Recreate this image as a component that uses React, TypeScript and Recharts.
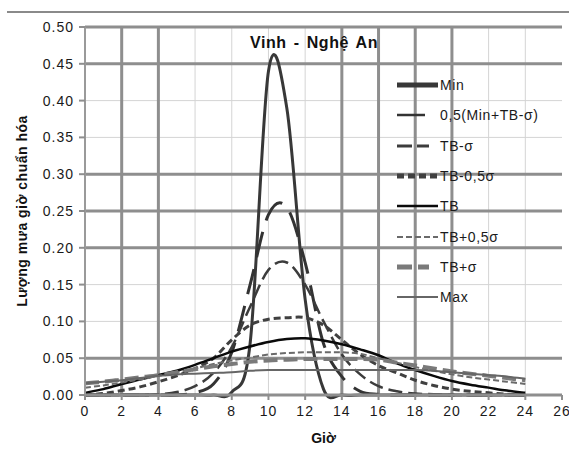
import React from 'react';
import { LineChart, Line, XAxis, YAxis, CartesianGrid, Legend, Label } from 'recharts';

const hours = [0, 1, 2, 3, 4, 5, 6, 7, 8, 9, 10, 11, 12, 13, 14, 15, 16, 17, 18, 19, 20, 21, 22, 23, 24];
const minVals = [0, 0, 0, 0, 0, 0, 0, 0, 0.004, 0.07, 0.44, 0.39, 0.13, 0.008, 0, 0, 0, 0, 0, 0, 0, 0, 0, 0, 0];
const halfMinTbSigma = [0, 0, 0, 0, 0, 0, 0.003, 0.015, 0.058, 0.15, 0.245, 0.255, 0.18, 0.07, 0.025, 0.005, 0.001, 0, 0, 0, 0, 0, 0, 0, 0];
const tbMinusSigma = [0, 0, 0, 0, 0.001, 0.004, 0.012, 0.03, 0.065, 0.12, 0.17, 0.18, 0.15, 0.1, 0.055, 0.028, 0.012, 0.005, 0.002, 0.001, 0, 0, 0, 0, 0];
const tbMinusHalfSigma = [0, 0.002, 0.006, 0.011, 0.018, 0.026, 0.036, 0.05, 0.075, 0.095, 0.103, 0.105, 0.105, 0.095, 0.075, 0.055, 0.04, 0.03, 0.02, 0.013, 0.008, 0.005, 0.003, 0.001, 0];
const tbVals = [0.003, 0.008, 0.015, 0.021, 0.027, 0.033, 0.041, 0.05, 0.059, 0.066, 0.072, 0.076, 0.077, 0.074, 0.069, 0.062, 0.054, 0.043, 0.034, 0.026, 0.019, 0.014, 0.01, 0.006, 0.003];
const tbPlusHalfSigma = [0.01, 0.013, 0.017, 0.021, 0.026, 0.031, 0.036, 0.042, 0.047, 0.051, 0.055, 0.057, 0.058, 0.058, 0.058, 0.056, 0.05, 0.044, 0.038, 0.033, 0.028, 0.024, 0.021, 0.018, 0.015];
const tbPlusSigma = [0.016, 0.018, 0.021, 0.024, 0.027, 0.031, 0.035, 0.039, 0.042, 0.045, 0.047, 0.048, 0.049, 0.049, 0.049, 0.049, 0.048, 0.044, 0.04, 0.036, 0.032, 0.029, 0.026, 0.023, 0.02];
const maxVals = [0.016, 0.018, 0.02, 0.023, 0.026, 0.028, 0.029, 0.03, 0.031, 0.033, 0.034, 0.034, 0.034, 0.034, 0.034, 0.034, 0.034, 0.034, 0.034, 0.033, 0.031, 0.029, 0.027, 0.025, 0.022];

const seriesNames = ['Min', '0,5(Min+TB-σ)', 'TB-σ', 'TB-0,5σ', 'TB', 'TB+0,5σ', 'TB+σ', 'Max'];
const seriesValues = [minVals, halfMinTbSigma, tbMinusSigma, tbMinusHalfSigma, tbVals, tbPlusHalfSigma, tbPlusSigma, maxVals];

const xTicks = [0, 2, 4, 6, 8, 10, 12, 14, 16, 18, 20, 22, 24, 26];
const yTicks = [0, 0.05, 0.1, 0.15, 0.2, 0.25, 0.3, 0.35, 0.4, 0.45, 0.5];
const xMajorGrid = [2, 4, 14, 16, 18, 20];
const xMinorGrid = [6, 8, 10, 12, 22, 24];
const yMajorGrid = [0.05, 0.2, 0.25, 0.3, 0.45, 0.5];
const yMinorGrid = [0.1, 0.15, 0.35, 0.4];

// styles per series (chart stroke, legend sample)
const styles = [
  { color: '#383838', width: 3, dash: undefined, legendWidth: 5, legendLen: 41, legendDash: undefined },
  { color: '#333333', width: 3, dash: '26 12', legendWidth: 2.5, legendLen: 28, legendDash: undefined },
  { color: '#3c3c3c', width: 2.5, dash: '14 6', legendWidth: 3, legendLen: 32, legendDash: '15 5' },
  { color: '#404040', width: 3, dash: '7 4', legendWidth: 5, legendLen: 41, legendDash: '7 4' },
  { color: '#0a0a0a', width: 2.5, dash: undefined, legendWidth: 2.5, legendLen: 41, legendDash: undefined },
  { color: '#6a6a6a', width: 2, dash: '6 3', legendWidth: 2, legendLen: 41, legendDash: '6 3' },
  { color: '#7a7a7a', width: 4, dash: '14 6', legendWidth: 5, legendLen: 32, legendDash: '15 6' },
  { color: '#666666', width: 2, dash: undefined, legendWidth: 2, legendLen: 41, legendDash: undefined },
];

const data = hours.map((h, i) => {
  const row: Record<string, number> = { h };
  seriesValues.forEach((vals, k) => {
    row['s' + k] = vals[i];
  });
  return row;
});

// Excel-like smoothing (Catmull-Rom through points)
const excelSmooth: any = (context: any) => {
  let pts: number[][] = [];
  return {
    areaStart() {},
    areaEnd() {},
    lineStart() {
      pts = [];
    },
    point(x: number, y: number) {
      pts.push([+x, +y]);
    },
    lineEnd() {
      if (!pts.length) return;
      context.moveTo(pts[0][0], pts[0][1]);
      for (let i = 0; i < pts.length - 1; i++) {
        const p0 = pts[i - 1] || pts[i];
        const p1 = pts[i];
        const p2 = pts[i + 1];
        const p3 = pts[i + 2] || p2;
        context.bezierCurveTo(
          p1[0] + (p2[0] - p0[0]) / 6,
          p1[1] + (p2[1] - p0[1]) / 6,
          p2[0] - (p3[0] - p1[0]) / 6,
          p2[1] - (p3[1] - p1[1]) / 6,
          p2[0],
          p2[1]
        );
      }
    },
  };
};

const font = "'Liberation Sans', Arial, sans-serif";

const renderLegend = (props: any) => {
  const payload = [...(props.payload || [])].sort(
    (a: any, b: any) => Number(String(a.dataKey).slice(1)) - Number(String(b.dataKey).slice(1))
  );
  return (
    <div style={{ fontFamily: font, fontSize: 14, color: '#1a1a1a', letterSpacing: 0.6 }}>
      {payload.map((p: any, i: number) => {
        const k = Number(String(p.dataKey).slice(1));
        const st = styles[k];
        return (
          <div key={i} style={{ height: 30.3, display: 'flex', alignItems: 'center' }}>
            <svg width={42} height={12} style={{ display: 'block' }}>
              <line
                x1={0}
                y1={6}
                x2={st.legendLen}
                y2={6}
                stroke={st.color}
                strokeWidth={st.legendWidth}
                strokeDasharray={st.legendDash}
              />
            </svg>
            <span style={{ marginLeft: 1, whiteSpace: 'nowrap' }}>{p.value}</span>
          </div>
        );
      })}
    </div>
  );
};

export default function App() {
  return (
    <div style={{ position: 'absolute', left: 0, top: 0, width: 569, height: 460, background: '#fff' }}>
      <LineChart width={569} height={460} data={data} margin={{ top: 27, right: 7, left: 0, bottom: 0 }}>
        <CartesianGrid stroke="#d4d4d4" strokeWidth={1} horizontalValues={yMinorGrid} verticalValues={xMinorGrid} />
        <CartesianGrid stroke="#8e8e8e" strokeWidth={3} horizontalValues={yMajorGrid} verticalValues={xMajorGrid} />
        <XAxis
          dataKey="h"
          type="number"
          domain={[0, 26]}
          ticks={xTicks}
          interval={0}
          height={65}
          axisLine={{ stroke: '#8e8e8e', strokeWidth: 3 }}
          tickLine={{ stroke: '#8e8e8e', strokeWidth: 2 }}
          tickSize={5}
          tickMargin={6}
          tick={{ fill: '#1a1a1a', fontSize: 14, fontFamily: font, letterSpacing: 1 }}
        >
          <Label value="Giờ" position="insideBottom" offset={17} style={{ fontFamily: font, fontWeight: 'bold', fontSize: 14, fill: '#111' }} />
        </XAxis>
        <YAxis
          type="number"
          domain={[0, 0.5]}
          ticks={yTicks}
          interval={0}
          width={85}
          axisLine={{ stroke: '#9a9a9a', strokeWidth: 2 }}
          tickLine={{ stroke: '#8e8e8e', strokeWidth: 2 }}
          tickSize={6}
          tickMargin={5}
          tickFormatter={(v: number) => v.toFixed(2)}
          tick={{ fill: '#1a1a1a', fontSize: 14, fontFamily: font, letterSpacing: 1 }}
        >
          <Label
            value="Lượng mưa giờ chuẩn hóa"
            angle={-90}
            position="center"
            dx={-20}
            style={{ fontFamily: font, fontWeight: 'bold', fontSize: 14, fill: '#111', letterSpacing: 0.5, textAnchor: 'middle' }}
          />
        </YAxis>
        <Legend
          layout="vertical"
          align="center"
          verticalAlign="middle"
          content={renderLegend}
          wrapperStyle={{ left: 397, top: 70, width: 172 }}
        />
        {seriesNames.map((name, k) => (
          <Line
            key={name}
            name={name}
            dataKey={'s' + k}
            type={excelSmooth}
            stroke={styles[k].color}
            strokeWidth={styles[k].width}
            strokeDasharray={styles[k].dash}
            dot={false}
            activeDot={false}
            isAnimationActive={false}
          />
        ))}
      </LineChart>
      <div style={{ position: 'absolute', left: 7, top: 11, width: 562, height: 2, background: '#8a8a8a' }} />
      <div
        style={{
          position: 'absolute',
          left: 0,
          width: 628,
          top: 34,
          textAlign: 'center',
          fontFamily: font,
          fontWeight: 'bold',
          fontSize: 16,
          letterSpacing: 0.6,
          wordSpacing: 2,
          color: '#111',
        }}
      >
        Vinh - Nghệ An
      </div>
    </div>
  );
}
